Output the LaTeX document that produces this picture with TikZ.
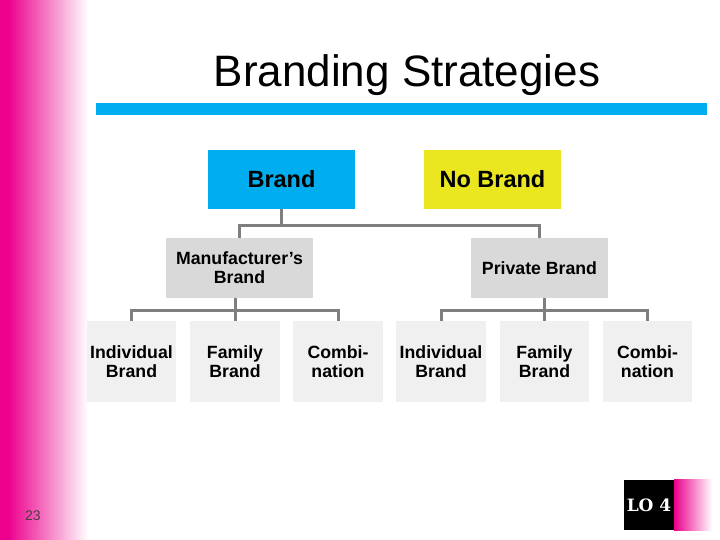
\documentclass[tikz,border=0pt]{standalone}
\usepackage{fontspec}
\setmainfont{Liberation Sans}
\newfontfamily\badgefont{DejaVu Serif}
\usepackage{tikz}
\usetikzlibrary{positioning}
\definecolor{sidepink}{HTML}{EC008C}
\definecolor{brandcyan}{HTML}{00AEEF}
\definecolor{brandyellow}{HTML}{EAE620}
\definecolor{tiergray}{HTML}{D9D9D9}
\definecolor{leafgray}{HTML}{F0F0F0}
\definecolor{linkgray}{HTML}{7F7F7F}
\definecolor{pagegray}{HTML}{4D3A45}
\tikzset{tier/.style={fill=tiergray,align=center,inner sep=0pt,minimum height=60pt,font=\fontsize{17.7}{19}\selectfont\bfseries},leaf/.style={fill=leafgray,align=center,inner sep=0pt,minimum width=90pt,minimum height=81pt,font=\fontsize{17.7}{19}\selectfont\bfseries},link/.style={draw=linkgray,line width=3pt}}

\begin{document}
\begin{tikzpicture}[x=1pt,y=-1pt,top/.style={align=center,inner sep=0pt,minimum height=59pt,font=\fontsize{23.5}{26}\selectfont\bfseries}]
\useasboundingbox (0,0) rectangle (720,540);
\fill[sidepink] (0,0) rectangle (8,540);
\shade[left color=sidepink,right color=white] (8,0) rectangle (88,540);
\node[anchor=base,font=\fontsize{44}{50}\selectfont] (title) at (407,86.5) {Branding Strategies};
\fill[brandcyan] (96,103) rectangle (707,115);
\node[top,fill=brandcyan,minimum width=147pt] (brand) at (281.5,179.5) {Brand};
\node[top,fill=brandyellow,minimum width=137pt] (nobrand) at (492.5,179.5) {No Brand};
\node[tier,minimum width=147pt] (mfr) at (239.5,268) {Manufacturer’s\\Brand};
\node[tier,minimum width=137pt] (pvt) at (539.5,268) {Private Brand};
\node[leaf,minimum width=89pt] (ind1) at (131.5,361.5) {Individual\\Brand};
\node[leaf] (fam1) at (235,361.5) {Family\\Brand};
\node[leaf] (comb1) at (338,361.5) {Combi-\\nation};
\node[leaf] (ind2) at (441,361.5) {Individual\\Brand};
\node[leaf,minimum width=89pt] (fam2) at (544.5,361.5) {Family\\Brand};
\node[leaf,minimum width=89pt] (comb2) at (647.5,361.5) {Combi-\\nation};
\coordinate (bus) at (0,226);
\coordinate (lbus) at (0,310);
\draw[link] (brand.south) -- (brand.south |- bus);
\draw[link] (mfr.north) -- (mfr.north |- bus) -- (pvt.north |- bus) -- (pvt.north);
\draw[link] (mfr.south -| fam1.north) -- (fam1.north);
\draw[link] (ind1.north) -- (ind1.north |- lbus) -- (comb1.north |- lbus) -- (comb1.north);
\draw[link] (pvt.south -| fam2.north) -- (fam2.north);
\draw[link] (ind2.north) -- (ind2.north |- lbus) -- (comb2.north |- lbus) -- (comb2.north);
\node[font=\fontsize{14}{16}\selectfont,text=pagegray] (page) at (33,516) {23};
\node[fill=black,text=white,inner sep=0pt,minimum width=50pt,minimum height=50pt,font=\badgefont\bfseries\fontsize{17}{19}\selectfont] (lo) at (649,505) {LO 4};
\shade[left color=sidepink,right color=white] (lo.north east) rectangle ([xshift=38pt]lo.south east);
\end{tikzpicture}
\end{document}
